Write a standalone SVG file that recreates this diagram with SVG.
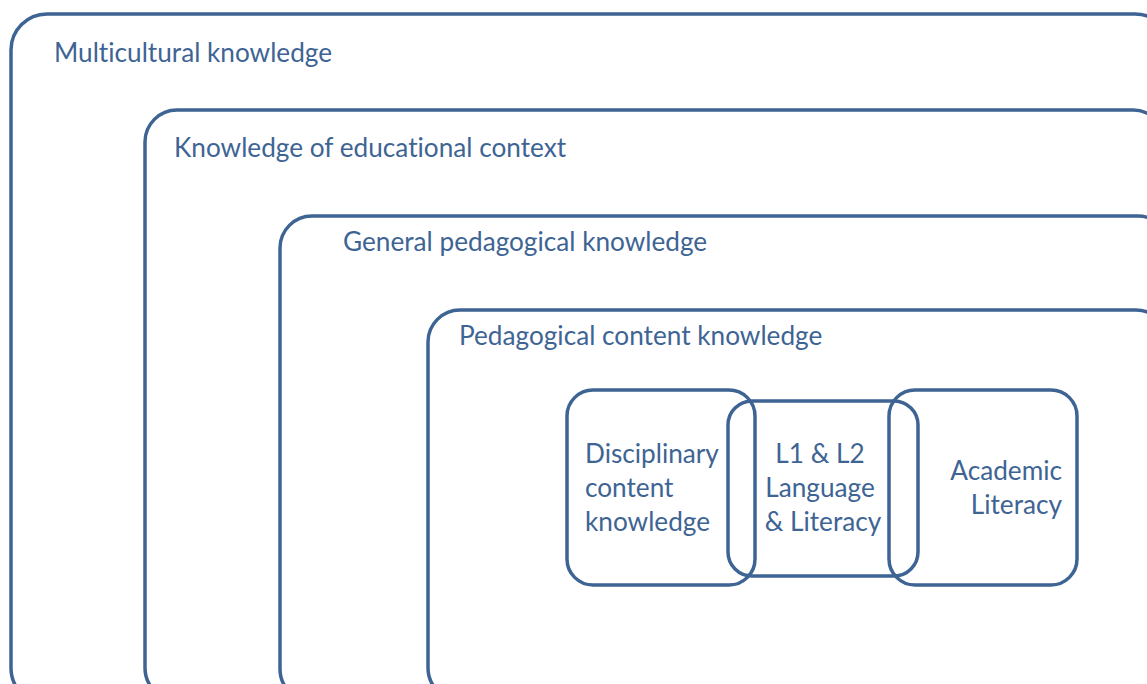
<svg xmlns="http://www.w3.org/2000/svg" width="1147" height="684" viewBox="0 0 1147 684">
<style>
.box{fill:none;stroke:#3E6494;stroke-width:3.5}
.t{font-family:Lato,"Open Sans",sans-serif;font-size:26.2px;fill:#3E6494;font-variant-ligatures:none;font-feature-settings:"liga" 0,"clig" 0}
</style>
<rect width="1147" height="684" fill="#fff"/>
<g id="multicultural">
<rect class="box" x="11" y="14" width="1160" height="690" rx="36"/>
<text class="t" x="54" y="62">Multicultural knowledge</text>
</g>
<g id="educational-context">
<rect class="box" x="145" y="110" width="1020" height="590" rx="32"/>
<text class="t" x="174" y="157">Knowledge of educational context</text>
</g>
<g id="general-pedagogical">
<rect class="box" x="280" y="216" width="890" height="485" rx="32"/>
<text class="t" x="343" y="251">General pedagogical knowledge</text>
</g>
<g id="pedagogical-content">
<rect class="box" x="428" y="310" width="740" height="390" rx="32"/>
<text class="t" x="459" y="345">Pedagogical content knowledge</text>
</g>
<g id="disciplinary">
<rect class="box" x="567" y="390" width="188" height="195" rx="26"/>
<text class="t" x="585" y="463">Disciplinary</text>
<text class="t" x="585" y="497">content</text>
<text class="t" x="585" y="531">knowledge</text>
</g>
<g id="language-literacy">
<rect class="box" x="728" y="401" width="190" height="175" rx="24"/>
<text class="t" x="820" y="463" text-anchor="middle">L1 &amp; L2</text>
<text class="t" x="820" y="497" text-anchor="middle">Language</text>
<text class="t" x="823" y="531" text-anchor="middle">&amp; Literacy</text>
</g>
<g id="academic-literacy">
<rect class="box" x="889" y="390" width="188" height="195" rx="26"/>
<text class="t" x="1062" y="480" text-anchor="end">Academic</text>
<text class="t" x="1062" y="514" text-anchor="end">Literacy</text>
</g>
<g id="connectors"></g>
</svg>
